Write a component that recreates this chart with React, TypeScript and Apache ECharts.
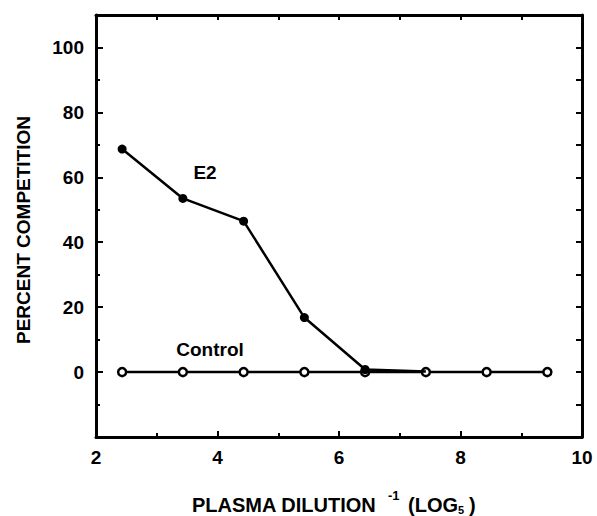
import React, { useEffect, useRef } from "react";
import * as echarts from "echarts";

const xValues = [2.43, 3.43, 4.43, 5.43, 6.43, 7.43, 8.43, 9.43];
const e2Values = [68.7, 53.5, 46.5, 16.8, 0.8, 0.2];
const controlValues = [0, 0, 0, 0, 0, 0, 0, 0];
const xTickLabels = [2, 4, 6, 8, 10];
const yTickLabels = [0, 20, 40, 60, 80, 100];

const FONT = "'Liberation Sans', Arial, Helvetica, sans-serif";

export default function App() {
  const ref = useRef<HTMLDivElement>(null);
  useEffect(() => {
    if (!ref.current) return;
    const chart = echarts.init(ref.current, null, { renderer: "svg", width: 597, height: 516 });
    const axisBase = {
      type: "value" as const,
      axisLine: { show: true, onZero: false, lineStyle: { color: "#000", width: 3 } },
      splitLine: { show: false },
    };
    const e2Data = e2Values.map((v, i) =>
      i === e2Values.length - 1
        ? { value: [xValues[i], v], symbolSize: 0 }
        : { value: [xValues[i], v] }
    );
    const controlData = controlValues.map((v, i) => [xValues[i], v]);
    const txt = (text: string, x: number, y: number, size: number, align = "left", rotation = 0) => ({
      type: "text",
      x,
      y,
      rotation,
      style: {
        text,
        fill: "#000",
        font: `bold ${size}px ${FONT}`,
        align,
        verticalAlign: "middle",
      },
    });
    chart.setOption({
      animation: false,
      backgroundColor: "#fff",
      grid: { left: 96, right: 15, top: 15, bottom: 79, containLabel: false, outerBoundsMode: "none" },
      xAxis: [
        {
          ...axisBase,
          position: "bottom",
          min: 2,
          max: 10,
          interval: 2,
          axisTick: { show: true, inside: true, length: 6, lineStyle: { width: 2, color: "#000" } },
          minorTick: { show: true, splitNumber: 2, length: 4, lineStyle: { width: 2, color: "#000" } },
          axisLabel: {
            show: true,
            color: "#000",
            fontFamily: FONT,
            fontWeight: "bold",
            fontSize: 19,
            margin: 11,
            formatter: (v: number) => (xTickLabels.includes(v) ? String(v) : ""),
          },
        },
        {
          ...axisBase,
          position: "top",
          min: 2,
          max: 10,
          interval: 1,
          axisTick: { show: true, inside: true, length: 5, lineStyle: { width: 2, color: "#000" } },
          axisLabel: { show: false },
        },
      ],
      yAxis: [
        {
          ...axisBase,
          position: "left",
          min: -20,
          max: 110,
          interval: 20,
          axisTick: { show: true, inside: true, length: 7, lineStyle: { width: 2, color: "#000" } },
          minorTick: { show: true, splitNumber: 2, length: 4, lineStyle: { width: 2, color: "#000" } },
          axisLabel: {
            show: true,
            color: "#000",
            fontFamily: FONT,
            fontWeight: "bold",
            fontSize: 19,
            margin: 12,
            formatter: (v: number) => (yTickLabels.includes(v) ? String(v) : ""),
          },
        },
        {
          ...axisBase,
          position: "right",
          min: -20,
          max: 110,
          interval: 10,
          axisTick: { show: true, inside: true, length: 6, lineStyle: { width: 2, color: "#000" } },
          axisLabel: { show: false },
        },
      ],
      graphic: [
        txt("PERCENT COMPETITION", 23, 230, 19, "center", Math.PI / 2),
        txt("E2", 205, 172, 19, "center"),
        txt("Control", 210, 349, 19, "center"),
        txt("PLASMA DILUTION", 192, 505, 20),
        txt("-1", 388, 495, 13),
        txt("(LOG", 408, 505, 20),
        txt("5", 458, 510, 11),
        txt(")", 469, 505, 20),
      ],
      series: [
        {
          name: "Control",
          type: "line",
          xAxisIndex: 0,
          yAxisIndex: 0,
          data: controlData,
          symbol: "circle",
          symbolSize: 8,
          itemStyle: { color: "#fff", borderColor: "#000", borderWidth: 2.5 },
          lineStyle: { color: "#000", width: 2.5 },
          z: 2,
        },
        {
          name: "E2",
          type: "line",
          xAxisIndex: 0,
          yAxisIndex: 0,
          data: e2Data,
          symbol: "circle",
          symbolSize: 9,
          itemStyle: { color: "#000" },
          lineStyle: { color: "#000", width: 2.5 },
          z: 3,
        },
      ],
    });
    return () => chart.dispose();
  }, []);
  return (
    <div
      ref={ref}
      style={{ position: "fixed", left: 0, top: 0, width: 597, height: 516, background: "#fff" }}
    />
  );
}
